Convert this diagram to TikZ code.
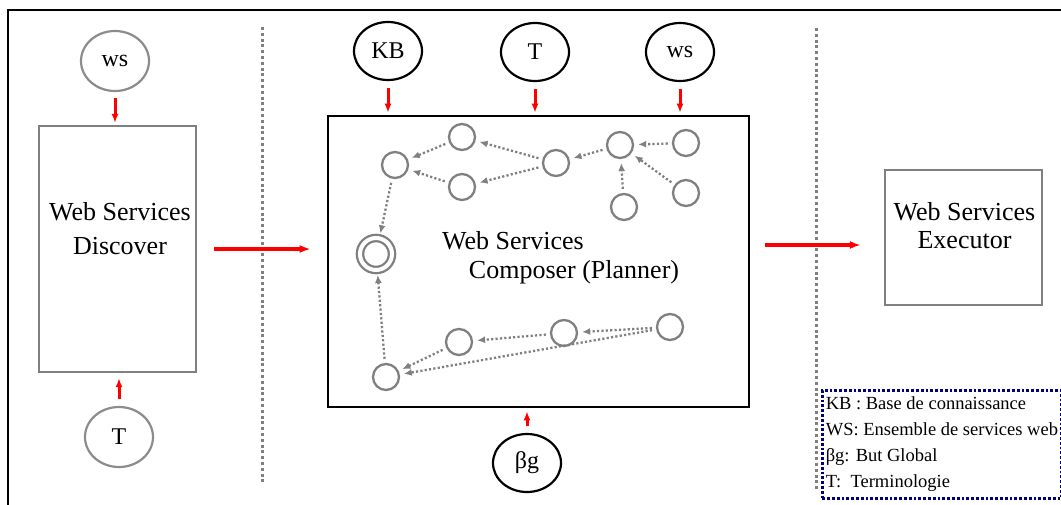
\documentclass[tikz,border=0pt]{standalone}
\usepackage{fontspec}
\setmainfont{Liberation Serif}
\usetikzlibrary{shapes.geometric,arrows.meta,positioning}
\definecolor{legendnavy}{rgb}{0,0,0.5}

\begin{document}
\begin{tikzpicture}[x=1pt,y=-1pt,
    inp/.style={ellipse,draw,line width=2.2pt,minimum width=68,minimum height=58,inner sep=0pt,font=\fontsize{24}{28}\selectfont},
    inpgray/.style={inp,draw=gray!90,minimum height=60},
    feed/.style={-{Latex[length=9pt,width=7pt]},red,line width=3pt},
    flow/.style={-{Latex[length=11pt,width=8pt]},red,line width=3.2pt},
    svc/.style={circle,draw=gray,line width=2.3pt,minimum size=26,inner sep=0pt},
    link/.style={-{Latex[length=8pt,width=7pt]},gray,dash pattern=on 2.2pt off 2.2pt,line width=2.3pt,shorten >=4pt,shorten <=4pt},
    sep/.style={gray,line width=3pt,dash pattern=on 3pt off 2.8pt},
    lbl/.style={font=\fontsize{26}{34}\selectfont,inner sep=0pt}
  ]
        \useasboundingbox (0,0) rectangle (1061,504);
        %Frame
        \draw[line width=2.4pt] (8,506) -- (8,10) -- (1063,10);
        %Separators
        \draw[sep] (262,27) -- (262,484);
        \draw[sep] (816,28) -- (816,491);
        %Boxes
        \node[draw=gray,line width=2.2pt,minimum width=157,minimum height=246] (disc) at (117.5,249) {};
        \node[draw,line width=2.6pt,minimum width=421,minimum height=291] (comp) at (538.5,261.5) {};
        \node[draw=gray,line width=2.2pt,minimum width=157,minimum height=135] (exec) at (963.5,237.5) {};
        \node[lbl,align=center] (disclbl) at (120,229) {Web Services\\Discover};
        \node[lbl,align=center,font=\fontsize{26}{28}\selectfont] (execlbl) at (964.5,226) {Web Services\\Executor};
        \node[lbl] (complbl1) at (513,241) {Web Services};
        \node[lbl] (complbl2) at (574,272) {Composer (Planner)};
        %Inputs
        \node[inpgray] (wsL) at (115,61) {ws};
        \node[inpgray] (tL) at (119,437) {T};
        \node[inp] (kb) at (388,51) {KB};
        \node[inp] (tC) at (535,52) {T};
        \node[inp] (wsC) at (680,52) {ws};
        \node[inp] (goalin) at (527,463) {βg};
        \draw[feed,shorten <=6pt,shorten >=2pt] (wsL.south) -- (wsL.south |- disc.north);
        \draw[feed,shorten <=7pt,shorten >=5pt] (tL.north) -- (tL.north |- disc.south);
        \draw[feed,shorten <=7pt,shorten >=2pt] (kb.south) -- (kb.south |- comp.north);
        \draw[feed,shorten <=7pt,shorten >=2pt] (tC.south) -- (tC.south |- comp.north);
        \draw[feed,shorten <=7pt,shorten >=2pt] (wsC.south) -- (wsC.south |- comp.north);
        \draw[feed,shorten <=7pt,shorten >=3pt] (goalin.north) -- (goalin.north |- comp.south);
        %Flow
        \draw[flow,shorten <=17pt,shorten >=16pt] (disc.east) -- (disc.east -| comp.west);
        \draw[flow,shorten <=15pt,shorten >=23pt] (comp.east |- 0,245) -- (exec.west |- 0,245);
        %Services
        \node[svc] (c1) at (462,137) {};
        \node[svc] (c2) at (395,165) {};
        \node[svc] (c3) at (462,187) {};
        \node[svc] (c4) at (556,163) {};
        \node[svc] (c5) at (620,145) {};
        \node[svc] (c6) at (686,143) {};
        \node[svc] (c7) at (686,193) {};
        \node[svc] (c8) at (624,207) {};
        \node[svc,minimum size=32,double,double distance=4pt] (goal) at (376,254) {};
        \node[svc] (d1) at (386,377) {};
        \node[svc] (d2) at (459,342) {};
        \node[svc] (d3) at (564,333) {};
        \node[svc] (d4) at (670,327) {};
        \draw[link] (c4) -- (c1);
        \draw[link] (c4) -- (c3);
        \draw[link] (c1) -- (c2);
        \draw[link] (c3) -- (c2);
        \draw[link] (c5) -- (c4);
        \draw[link] (c6) -- (c5);
        \draw[link] (c7) -- (c5);
        \draw[link] (c8) -- (c5);
        \draw[link] (c2) -- (goal);
        \draw[link] (d1) -- (goal);
        \draw[link] (d2) -- (d1);
        \draw[link] (d3) -- (d2);
        \draw[link] (d4) -- (d3);
        \draw[link] (d4) -- (d1);
        %Legend
        \node[draw=legendnavy,fill=white,line width=2.8pt,dash pattern=on 2.8pt off 2pt,anchor=north west,
              minimum width=239,minimum height=108,align=left,inner sep=3pt,
              font=\fontsize{18.5}{26}\selectfont] (legend) at (821,389)
              {KB : Base de connaissance\\WS: Ensemble de services web\\βg: But Global\\T:~ Terminologie};
      \end{tikzpicture}
\end{document}
